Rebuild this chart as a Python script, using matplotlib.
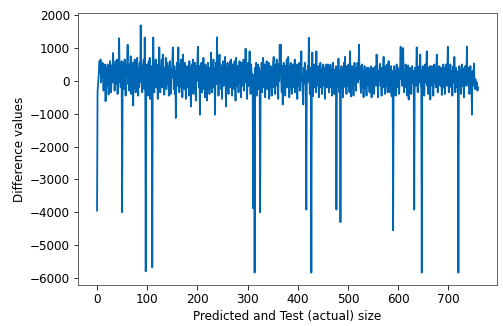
import matplotlib
matplotlib.use('Agg')
import matplotlib.pyplot as plt

# difference (predicted - actual), 20 per row
diff = [
    -3950, -350, -100, 150, 450, 600, 250, 650, -50, 420, 100, 550, 200, -300, 350, -50, 500, -620, 100, 400,
    -150, 500, 250, -420, 350, -100, 600, 300, -350, 200, 480, -50, 850, 150, 450, -300, 250, 600, -100, 350,
    650, -400, 300, -50, 1300, 200, 500, -200, 350, 600, -4000, 100, 550, -250, 300, 650, 0, -450, 450, 150,
    550, 1100, -100, 400, -300, 500, 150, 750, -400, 350, 0, 550, -750, 200, -200, 650, 250, -350, 500, 50,
    700, 200, -450, 400, -200, 550, 50, 1690, -50, 350, -350, 500, 150, 650, -250, 1320, 100, -5800, 400, -150,
    500, -450, 300, 600, -100, 700, -550, 200, 450, -200, -5680, 150, 1320, 300, -350, 550, 0, 650, -200, 400,
    200, -550, 500, -50, 1020, 300, -350, 450, 50, 650, -200, 800, 250, -100, -420, 400, 0, 700, -250, 300,
    550, -100, 450, -450, 250, 600, -50, -400, 350, 100, 550, 1020, 200, -250, 450, -400, 300, -1130, 150, 550,
    -150, 450, 1020, 100, -350, 500, 150, 650, -200, 350, -500, 800, 50, 450, -250, 550, 100, -550, 400, -50,
    450, -200, 300, -450, 600, 0, 400, -780, 200, 500, -150, 650, -400, 300, 50, 550, -200, -600, 450, 0,
    600, 1040, 200, -200, 450, -1030, 300, -50, 550, -350, 350, 50, 700, -250, 300, -500, 500, 0, 400, -600,
    200, 550, -150, 400, -400, 300, 50, 860, -50, -350, 450, 150, 650, -200, 350, -1030, 250, 550, -100, 1330,
    50, 450, -450, 300, 800, -50, 500, -250, 400, -550, 200, 600, -150, 450, 50, 730, -50, -780, 400, -100,
    550, 50, -400, 450, 150, 600, -200, 650, 250, -450, 500, -50, 400, -250, 600, 50, -600, 700, 200, -150,
    450, 0, -350, 400, 600, -50, 300, -500, 550, 50, -150, 450, 650, -300, 300, 150, 980, -50, 450, -550,
    200, 550, -150, 400, 900, 50, -400, 500, 250, -200, 200, -3880, 50, -50, -5840, 400, -150, 550, -450, 300,
    0, 500, -250, 400, 150, -4000, 300, -100, 550, -350, 400, 700, 50, -200, 500, -500, 300, -50, 600, -250,
    350, 50, 550, -550, 200, -150, 450, 0, -450, 400, -50, 550, 730, -200, 300, -400, 500, 50, 650, -150,
    250, -550, 500, 0, 1100, 300, 1100, 50, -350, 450, -720, 200, 550, -150, 300, -450, 450, 0, 650, -200,
    300, 730, -50, -500, 450, 50, 550, -150, -400, 350, 100, 500, -200, 250, 650, -350, 300, -50, 500, -550,
    200, 450, -150, 550, -300, 300, 0, 900, 200, -150, -450, -720, 400, -50, 550, 50, -200, -3920, 300, -50,
    450, 0, 1310, 200, -400, 400, -150, -5840, 100, 860, -470, 300, -100, 500, -200, 250, -350, 900, 50, 400,
    -150, 450, -500, 300, -50, 550, -200, 350, -400, 150, 450, 500, -150, 250, -550, 400, 0, 500, -200, 300,
    500, -50, -350, 400, 50, 500, -200, 350, -450, 200, 550, -150, 350, -400, 300, 0, 450, -3920, 50, 400,
    -150, 680, 200, -350, 300, -4300, -50, 450, -200, 350, -500, 150, 550, -50, 730, -200, 300, -400, 450, 50,
    -150, 500, 200, -350, 900, 300, -470, 0, 450, -200, 300, -450, 200, 550, -100, 400, -300, 250, 0, 550,
    -50, 300, 1100, 50, 450, -150, -370, 200, 500, -200, 300, -500, 100, 450, -200, 300, -50, -450, 400, -150,
    200, 400, -100, -350, 300, 50, 450, -500, 0, 350, -200, 400, -400, 200, 50, 450, -150, 800, 200, -50,
    -500, 300, 0, 450, 520, -150, 200, -450, 400, -50, 300, 730, -200, 200, -400, 450, 50, -150, 500, -350,
    200, 600, -50, 300, -350, 50, 450, -470, -50, 300, -4550, 50, 450, -150, 300, -450, 200, 500, -50, 400,
    -200, 300, -400, 200, 450, 1040, 50, 300, -150, 450, 1000, -50, -350, 300, 50, 500, -200, 400, -450, 200,
    470, -570, 50, 400, -150, 300, -400, 200, 450, -50, 300, -200, -3920, 200, 400, -150, 300, 1020, 50, -350,
    400, -50, 450, 150, 800, -150, 300, -5840, 50, 450, -200, 300, -450, 200, 500, -50, 300, 900, -150, 200,
    -400, 400, 50, 450, -570, 200, -50, 450, -150, 300, -450, 200, 500, -50, 300, -200, 400, 800, 50, -350,
    300, -50, 450, 150, -150, 400, 50, -430, 300, -100, 500, -200, 200, -400, 400, 50, 500, -150, 300, 1040,
    50, -350, 400, -50, 500, 150, -200, 300, -450, 200, 450, -50, 730, 50, -350, 400, -50, 300, -200, 200,
    -5840, 50, 450, -50, 300, -400, 200, 500, -150, 300, 50, -500, 400, -50, 450, -150, 200, 1040, 50, 300,
    -150, 400, -400, 200, 450, -50, 150, -1030, 300, -150, 200, 530, 0, -250, 50, -200, -250, -50, -300, -200,
]

fig = plt.figure(figsize=(503 / 72, 326 / 72), dpi=72)
ax = fig.add_axes([78 / 503, 41 / 326, 419 / 503, 272 / 326])
ax.plot(diff, color='#0066b3', linewidth=1.8)
ax.set_xlabel('Predicted and Test (actual) size', fontsize=12)
ax.set_ylabel('Difference values', fontsize=12)
ax.tick_params(labelsize=12, length=4.5)
for s in ax.spines.values():
    s.set_color('#444444')

fig.savefig('out.png', dpi=72)
